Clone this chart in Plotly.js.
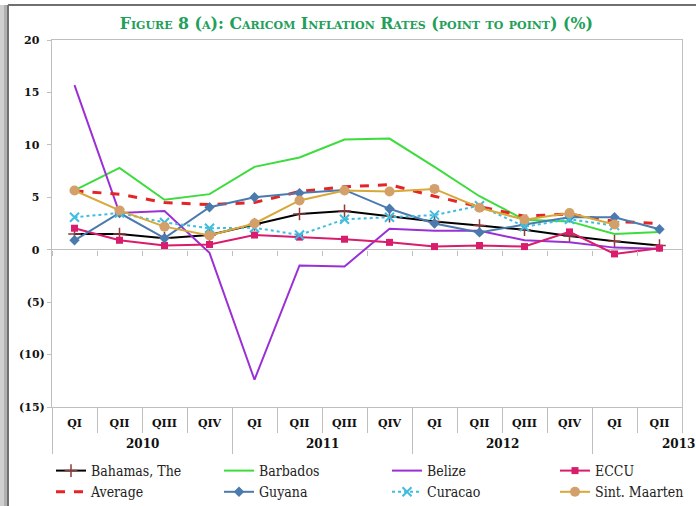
<!DOCTYPE html>
<html>
<head>
<meta charset="utf-8">
<script src="https://cdn.plot.ly/plotly-3.0.1.min.js"></script>
<style>html,body{margin:0;padding:0;background:#fff;}#chart{width:696px;height:506px;}</style>
</head>
<body>
<div id="chart"></div>
<script>
// ---- data ----
const quarters = ['QI','QII','QIII','QIV','QI','QII','QIII','QIV','QI','QII','QIII','QIV','QI','QII'];
const years = ['2010','2011','2012','2013'];
const yearStartIndex = [0, 4, 8, 12];
const bahamas     = [1.5, 1.5, 1.1, 1.4, 2.4, 3.4, 3.7, 3.2, 2.7, 2.3, 1.9, 1.3, 0.8, 0.4];
const barbados    = [5.65, 7.8, 4.76, 5.3, 7.9, 8.8, 10.5, 10.6, 7.9, 5.1, 2.85, 2.7, 1.5, 1.7];
const belize      = [15.7, 3.5, 3.7, -0.3, -12.4, -1.5, -1.6, 2.0, 1.8, 1.8, 0.9, 0.7, 0.2, 0.1];
const eccu        = [2.05, 0.9, 0.4, 0.5, 1.4, 1.2, 1.0, 0.7, 0.3, 0.4, 0.3, 1.7, -0.4, 0.15];
const average     = [5.6, 5.3, 4.5, 4.3, 4.5, 5.55, 6.0, 6.2, 5.1, 4.1, 3.2, 3.4, 2.7, 2.5];
const guyana      = [0.9, 3.5, 1.1, 4.05, 5.0, 5.4, 5.7, 3.9, 2.5, 1.65, 2.4, 3.1, 3.1, 1.95];
const curacao     = [3.1, 3.5, 2.6, 2.05, 2.1, 1.4, 2.9, 3.1, 3.3, 4.2, 2.2, 2.9, 2.3];
const sintMaarten = [5.65, 3.75, 2.2, 1.35, 2.5, 4.7, 5.65, 5.55, 5.8, 4.0, 2.86, 3.5, 2.4];
const yTickVals = [-15, -10, -5, 0, 5, 10, 15, 20];
const yTickText = ['(15)', '(10)', '(5)', '0\u2002', '5\u2002', '10\u2002', '15\u2002', '20\u2002'];

// ---- derived ----
const xIdx = quarters.map((q, i) => i);
const boundaries = quarters.map((q, i) => i - 0.5).concat([quarters.length - 0.5]);
const yearBounds = yearStartIndex.map(i => i - 0.5);
const xr = [-0.5, quarters.length - 0.5];

const SERIF = '"DejaVu Serif", "Liberation Serif", serif';
const SERIF_C = '"DejaVu Serif Condensed", "DejaVu Serif", serif';
const AX = '#bfbfbf';

function series(name, y, line, marker) {
  const t = {
    type: 'scatter', name: name, x: xIdx.slice(0, y.length), y: y,
    mode: marker ? 'lines+markers' : 'lines',
    line: line, cliponaxis: false, hoverinfo: 'skip'
  };
  if (marker) t.marker = marker;
  return t;
}

const traces = [
  series('Bahamas, The', bahamas, {color: '#000000', width: 2},
         {symbol: 'cross-thin-open', size: 9, line: {color: '#8b3c3c', width: 1.5}, color: '#8b3c3c'}),
  series('Barbados', barbados, {color: '#3ddc3d', width: 2}),
  series('Belize', belize, {color: '#9a2fd6', width: 2}),
  series('ECCU', eccu, {color: '#d91c6b', width: 2},
         {symbol: 'square', size: 7, color: '#d91c6b'}),
  series('Average', average, {color: '#e42526', width: 3, dash: 'dash'}),
  series('Guyana', guyana, {color: '#4a7aae', width: 2},
         {symbol: 'diamond', size: 8, color: '#4a7aae'}),
  series('Curacao', curacao, {color: '#3fbde0', width: 2, dash: 'dot'},
         {symbol: 'x-thin-open', size: 9, line: {color: '#3fbde0', width: 2}, color: '#3fbde0'}),
  series('Sint. Maarten', sintMaarten, {color: '#d8a838', width: 2},
         {symbol: 'circle', size: 10, color: '#d4a06a'}),
  {type: 'scatter', mode: 'lines', x: [null], y: [null], xaxis: 'x2', showlegend: false, hoverinfo: 'skip'},
  {type: 'scatter', mode: 'lines', x: [null], y: [null], xaxis: 'x3', showlegend: false, hoverinfo: 'skip'},
  {type: 'scatter', mode: 'lines', x: [null], y: [null], xaxis: 'x4', showlegend: false, hoverinfo: 'skip'}
];

const annotations = years.map((yr, k) => {
  const last = k + 1 === years.length;
  const start = yearStartIndex[k];
  const cx = last ? quarters.length - 0.5 : (start + yearStartIndex[k + 1] - 1) / 2;
  return {
    xref: 'x', yref: 'paper', x: cx, y: -0.1008, yanchor: 'middle', xanchor: 'center',
    xshift: last ? -4 : 0,
    text: yr, showarrow: false,
    font: {family: SERIF, size: 12, color: '#111', weight: 700}
  };
});

const px = v => (v - 52) / 630;
const py = v => (407 - v) / 367;

const layout = {
  width: 696, height: 506,
  margin: {l: 52, r: 14, t: 40, b: 99, autoexpand: false},
  paper_bgcolor: '#ffffff', plot_bgcolor: '#ffffff',
  showlegend: true,
  title: {
    text: 'Figure 8 (a): Caricom Inflation Rates (point to point) (%)',
    xref: 'container', x: 0.512, xanchor: 'center',
    yref: 'container', y: 1 - 23 / 506, yanchor: 'middle',
    font: {family: SERIF, size: 15.8, color: '#22a05a', weight: 700, variant: 'small-caps'}
  },
  xaxis: {
    range: xr, tickvals: xIdx, ticktext: quarters, ticks: '',
    showline: true, mirror: true, linecolor: AX, linewidth: 1,
    showgrid: false, zeroline: false, ticklabelstandoff: 6,
    tickfont: {family: SERIF, size: 11, color: '#111', weight: 700}
  },
  xaxis2: {
    overlaying: 'x', anchor: 'y', side: 'bottom', range: xr,
    tickvals: boundaries, ticks: 'outside', ticklen: 25, tickcolor: AX, tickwidth: 1,
    showticklabels: false, showline: false, showgrid: false, zeroline: false
  },
  xaxis3: {
    overlaying: 'x', anchor: 'y', side: 'bottom', range: xr,
    tickvals: yearBounds, ticks: 'outside', ticklen: 46, tickcolor: AX, tickwidth: 1,
    showticklabels: false, showline: false, showgrid: false, zeroline: false
  },
  xaxis4: {
    overlaying: 'x', anchor: 'free', position: 15 / 35, side: 'bottom', range: xr,
    tickvals: boundaries, ticks: 'outside', ticklen: 5, tickcolor: AX, tickwidth: 1,
    showticklabels: false, showline: false, showgrid: false, zeroline: false
  },
  yaxis: {
    range: [-15, 20], tickvals: yTickVals, ticktext: yTickText,
    ticks: 'outside', ticklen: 4, tickcolor: AX,
    showline: true, mirror: true, linecolor: AX, linewidth: 1,
    showgrid: false, zeroline: true, zerolinecolor: AX, zerolinewidth: 1,
    tickfont: {family: SERIF, size: 11, color: '#111', weight: 700}
  },
  legend: {
    orientation: 'h', x: px(51), xanchor: 'left', y: py(455), yanchor: 'top',
    entrywidth: 123, entrywidthmode: 'pixels', itemwidth: 30,
    font: {family: SERIF_C, size: 14, color: '#222'},
    bgcolor: 'rgba(0,0,0,0)', traceorder: 'normal'
  },
  annotations: annotations,
  shapes: [
    {type: 'rect', xref: 'paper', yref: 'paper', x0: px(0), x1: px(8), y0: py(510), y1: py(5),
     fillcolor: '#cfcfcf', line: {width: 0}, layer: 'below'},
    {type: 'rect', xref: 'paper', yref: 'paper', x0: px(4), x1: px(8), y0: py(510), y1: py(5),
     fillcolor: '#b0b0b0', line: {width: 0}, layer: 'below'},
    {type: 'line', xref: 'paper', yref: 'paper', x0: px(8), x1: px(700), y0: py(5), y1: py(5),
     line: {color: '#707070', width: 2}},
    {type: 'line', xref: 'paper', yref: 'paper', x0: px(8), x1: px(8), y0: py(5), y1: py(510),
     line: {color: '#707070', width: 2}}
  ]
};

Plotly.newPlot('chart', traces, layout, {displayModeBar: false, staticPlot: true});
</script>
</body>
</html>
